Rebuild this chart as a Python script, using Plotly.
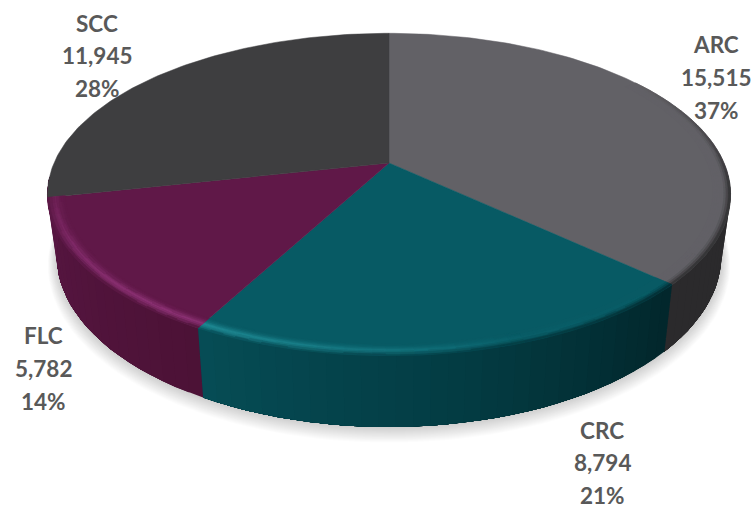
import numpy as np
import plotly.graph_objects as go

# Slice data, clockwise from twelve o'clock
categories = ["ARC", "CRC", "FLC", "SCC"]
values = [15515, 8794, 5782, 11945]

# Face, rim highlight and side-wall colours per slice
face_colors = ["#626166", "#075a64", "#601848", "#3e3e40"]
rim_colors = ["#626166", "#1f8a94", "#8c3174", "#3e3e40"]
wall_stops = {
    "ARC": ([90, 133], ["#2b2a2c", "#2b2a2c"]),
    "CRC": ([133, 170, 208], ["#02262b", "#033c43", "#064c55"]),
    "FLC": ([208, 265], ["#4c1236", "#581643"]),
}
label_color = "#595959"

# Label anchors: slice, centre x, and centres of its three lines
label_layout = {
    "ARC": (716, [44, 77, 110]),
    "CRC": (602, [430, 462.5, 495]),
    "FLC": (43, [335, 368, 401]),
    "SCC": (97, [23, 55, 88]),
}

# Perspective disc: the near side of the pie looks larger than the far side
CX, K = 389, 0.195
TOP = dict(a=335, b=155, cy=163)
BOTTOM = dict(a=326, b=165, cy=222)
BEVEL_START = 0.95


def project(theta, r, plane):
    t = np.radians(theta)
    u, v = r * np.sin(t), -r * np.cos(t)
    s = 1 / (1 - K * v)
    return CX + plane["a"] * u * s, plane["cy"] + plane["b"] * v * s


def rgb(h):
    return np.array([int(h[i:i + 2], 16) for i in (1, 3, 5)], dtype=float)


def mix(c0, c1, t):
    return c0 + (c1 - c0) * t


def to_hex(c):
    q = np.clip(np.round(np.asarray(c)), 0, 255).astype(int)
    return "#%02x%02x%02x" % tuple(q)


def wall_color(name, theta):
    xp, cols = wall_stops[name]
    arr = np.array([rgb(c) for c in cols])
    return np.array([np.interp(theta, xp, arr[:, i]) for i in range(3)])


def arc_angles(a0, a1, step):
    n = max(2, int(np.ceil((a1 - a0) / step)) + 1)
    return np.linspace(a0, a1, n)


total = sum(values)
bounds = np.concatenate([[0], np.cumsum(values) / total * 360])

fig = go.Figure()

# Soft drop shadow under the pie
thetas = np.linspace(0, 360, 181)
for layer in range(1, 17):
    plane = dict(a=BOTTOM["a"] + layer * 0.55, b=BOTTOM["b"] + layer * 0.35,
                 cy=BOTTOM["cy"] + layer * 0.55)
    x, y = project(thetas, 1.0, plane)
    fig.add_trace(go.Scatter(x=x, y=y, mode="lines", fill="toself",
                             fillcolor="rgba(0,0,0,0.010)",
                             line=dict(width=0), hoverinfo="skip"))


def poly(color, xs, ys, width=0.0):
    fig.add_trace(go.Scatter(x=list(xs) + [xs[0]], y=list(ys) + [ys[0]],
                             mode="lines", fill="toself", fillcolor=color,
                             line=dict(color=color, width=width),
                             hoverinfo="skip"))


# Side wall: a solid underlay per slice, then coarse strips on top of it,
# each strip reaching to the far end of the slice so no seam can show
wall_ranges = {"ARC": (90, bounds[1]), "CRC": (bounds[1], bounds[2]),
               "FLC": (bounds[2], 265)}
for name, (a0, a1) in wall_ranges.items():
    ang = arc_angles(a0, a1, 2.5)
    for t0 in ang[:-1]:
        rest = ang[ang >= t0]
        tx, ty = project(rest, 1, TOP)
        bx, by = project(rest[::-1], 1, BOTTOM)
        poly(to_hex(wall_color(name, t0 + 1.25)),
             list(tx) + list(bx), list(ty) + list(by))

# Flat top faces
for i, name in enumerate(categories):
    ang = arc_angles(bounds[i], bounds[i + 1], 1.0)
    x, y = project(ang, 1, TOP)
    poly(face_colors[i], [CX] + list(x), [TOP["cy"]] + list(y), width=0.5)

# Rounded rim between top face and wall; polygons sharing a colour share a trace
groups = {}
bands = np.linspace(BEVEL_START, 1.0, 9)
for i, name in enumerate(categories[:3]):
    base, hl = rgb(face_colors[i]), rgb(rim_colors[i])
    start = max(bounds[i], 55)
    ang = arc_angles(start, bounds[i + 1], 2.0)
    for t0, t1 in zip(ang[:-1], ang[1:]):
        tm = (t0 + t1) / 2
        glow = np.interp(tm, [130, 160, 190, 215, 240, 258], [0, 0.1, 0.7, 1, 0.7, 0.3])
        dark = np.interp(tm, [55, 100, 260], [0, 1, 1])
        wall = wall_color(name, max(tm, 90))
        for r0, r1 in zip(bands[:-1], bands[1:]):
            f = ((r0 + r1) / 2 - BEVEL_START) / (1 - BEVEL_START)
            peak = mix(base, hl, glow)
            if f < 0.55:
                c = mix(base, peak, (f / 0.55) ** 2)
            else:
                c = mix(peak, wall, ((f - 0.55) / 0.45) ** 1.5)
            c = mix(base, c, dark)
            x00, y00 = project(t0, r0, TOP)
            x10, y10 = project(t1, r0, TOP)
            x11, y11 = project(t1, r1, TOP)
            x01, y01 = project(t0, r1, TOP)
            xs, ys = groups.setdefault(to_hex(np.round(c / 2) * 2), ([], []))
            xs.extend([x00, x10, x11, x01, x00, None])
            ys.extend([y00, y10, y11, y01, y00, None])
for color, (xs, ys) in groups.items():
    fig.add_trace(go.Scatter(x=xs, y=ys, mode="lines", fill="toself",
                             fillcolor=color,
                             line=dict(color=color, width=0.7),
                             hoverinfo="skip"))

# Category, value and share labels
for name, val in zip(categories, values):
    lx, ly = label_layout[name]
    lines = [name, f"{val:,}", f"{round(val / total * 100)}%"]
    for line, yy in zip(lines, ly):
        fig.add_annotation(x=lx, y=yy, text=f"<b>{line}</b>", showarrow=False,
                           xanchor="center", yanchor="middle",
                           font=dict(family="Lato", size=22.5, color=label_color))

fig.update_layout(
    width=754, height=508, margin=dict(l=0, r=0, t=0, b=0),
    paper_bgcolor="white", plot_bgcolor="white", showlegend=False,
    xaxis=dict(range=[0, 754], visible=False, fixedrange=True),
    yaxis=dict(range=[508, 0], visible=False, fixedrange=True),
)
fig.write_html("out.html", config=dict(displayModeBar=False))
